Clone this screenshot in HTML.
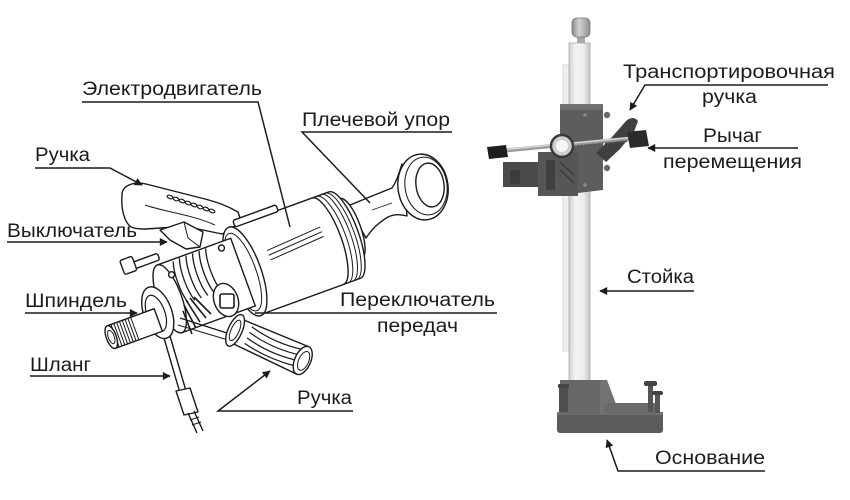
<!DOCTYPE html>
<html><head><meta charset="utf-8"><style>
html,body{margin:0;padding:0;background:#fff;}
svg{display:block;}
text{font-family:"Liberation Sans","Noto Sans CJK SC",sans-serif;font-size:19px;fill:#1c1c1c;}
</style></head><body>
<svg width="850" height="500" viewBox="0 0 850 500" xmlns="http://www.w3.org/2000/svg">
<defs>
<marker id="a" viewBox="0 0 10 10" refX="9" refY="5" markerWidth="9" markerHeight="8" markerUnits="userSpaceOnUse" orient="auto"><path d="M0,0 L10,5 L0,10 z" fill="#1c1c1c"/></marker>
<linearGradient id="col" x1="0" x2="1" y1="0" y2="0"><stop offset="0" stop-color="#cfcfcf"/><stop offset="0.3" stop-color="#f3f3f3"/><stop offset="0.7" stop-color="#ececec"/><stop offset="1" stop-color="#c4c4c4"/></linearGradient>
<linearGradient id="knob" x1="0" x2="1" y1="0" y2="0"><stop offset="0" stop-color="#8a8a8a"/><stop offset="0.4" stop-color="#d2d2d2"/><stop offset="1" stop-color="#8f8f8f"/></linearGradient>
</defs>

<!-- ============ DRILL ============ -->
<g stroke="#1a1a1a" stroke-width="1.4" fill="#fff" stroke-linejoin="round">
<!-- shoulder tube -->
<path d="M348,206 C362,200 377,194 392,188 C397,181 399,173 402,164 L407,216 C400,214 394,214 388,217 C378,223 372,229 366,238 Z"/>
<line x1="372" y1="210" x2="392" y2="203" stroke-width="0.8"/>
<!-- shoulder disk -->
<ellipse cx="423" cy="187" rx="25" ry="33" transform="rotate(-8 423 187)"/>
<ellipse cx="426" cy="186" rx="21" ry="29" transform="rotate(-8 426 186)" stroke-width="1"/>
<ellipse cx="430" cy="185" rx="14" ry="22" transform="rotate(-8 430 185)"/>

<!-- top handle -->
<path d="M122,196 C121,186 133,181 146,184 L205,199 C216,202 226,205 238,212 L242,224 L222,234 L198,229 L178,227 L160,228 C148,229 138,230 131,227 C124,222 121,208 122,196 Z"/>
<path d="M145,205 C165,212 190,214 215,225" fill="none" stroke-width="1"/>
<g fill="#fff" stroke-width="1.2">
<ellipse cx="170" cy="197" rx="3" ry="1.6" transform="rotate(20 170 197)"/>
<ellipse cx="176" cy="199" rx="3" ry="1.6" transform="rotate(20 176 199)"/>
<ellipse cx="182" cy="201" rx="3" ry="1.6" transform="rotate(20 182 201)"/>
<ellipse cx="188" cy="203" rx="3" ry="1.6" transform="rotate(20 188 203)"/>
<ellipse cx="194" cy="205" rx="3" ry="1.6" transform="rotate(20 194 205)"/>
<ellipse cx="200" cy="207" rx="3" ry="1.6" transform="rotate(20 200 207)"/>
<ellipse cx="206" cy="209" rx="3" ry="1.6" transform="rotate(20 206 209)"/>
<ellipse cx="212" cy="211" rx="3" ry="1.6" transform="rotate(20 212 211)"/>
</g>
<!-- trigger -->
<path d="M160,230 L184,222 L203,232 L200,247 L186,249 L170,240 Z"/>
<path d="M184,222 L188,238 L200,247" fill="none" stroke-width="1"/>

<!-- motor + gear head group -->
<g transform="translate(290,255) rotate(-20)">
  <ellipse cx="66" cy="-4" rx="10" ry="32"/>
  <path d="M-48,-46 L58,-46 A14,46 0 0 1 58,46 L-48,46 Z"/>
  <path d="M40,-46 A14 46 0 0 1 40,46" fill="none"/>
  <path d="M45,-46 A14 46 0 0 1 45,46" fill="none" stroke-width="1"/>
  <path d="M50,-46 A14 46 0 0 1 50,46" fill="none" stroke-width="1"/>
  <path d="M54,-46 A14 46 0 0 1 54,46" fill="none" stroke-width="1"/>
  <path d="M-20,-12 L38,-16 M-20,-7 L38,-11 M-20,-2 L38,-6" fill="none" stroke-width="1"/>
  <rect x="-42" y="-52" width="46" height="7" rx="2"/>
  <path d="M-30,46 L40,46" stroke-width="1"/>
  <ellipse cx="-48" cy="0" rx="16" ry="47"/>
  <ellipse cx="-50" cy="0" rx="13" ry="41" stroke-width="1"/>
  <!-- valve -->
  <rect x="-150" y="-47" width="26" height="7" rx="2"/>
  <rect x="-162" y="-53" width="13" height="15" rx="2"/>
  <!-- gear head -->
  <path d="M-50,-36 L-128,-36 L-128,36 L-50,36 Z"/>
  <g fill="none" stroke-width="1.3">
    <path d="M-112,-34 A9 30 0 0 0 -112,10"/>
    <path d="M-105,-35 A9 30 0 0 0 -105,10"/>
    <path d="M-98,-35 A9 30 0 0 0 -98,10"/>
    <path d="M-91,-35 A9 30 0 0 0 -91,10"/>
    <path d="M-84,-35 A9 30 0 0 0 -84,10"/>
    <path d="M-77,-35 A9 30 0 0 0 -77,10"/>
  </g>
  <ellipse cx="-128" cy="0" rx="12" ry="36"/>
  <circle cx="-118" cy="-22" r="3"/>
  <circle cx="-62" cy="-30" r="3"/>
  <!-- front ring -->
  <ellipse cx="-144" cy="9" rx="14" ry="27"/>
  <ellipse cx="-146" cy="9" rx="9" ry="19" stroke-width="1.2"/>
  <!-- spindle -->
  <rect x="-196" y="4" width="50" height="24"/>
  <g stroke-width="1">
    <path d="M-192,4 V28 M-189,4 V28 M-186,4 V28 M-183,4 V28 M-180,4 V28 M-177,4 V28 M-174,4 V28 M-171,4 V28"/>
  </g>
  <ellipse cx="-196" cy="16" rx="5" ry="12"/>
  <ellipse cx="-196" cy="16" rx="3" ry="7" stroke-width="1"/>
</g>

<!-- bevel gear teeth -->
<g stroke-width="1.6" fill="none">
<path d="M186,300 L200,322 M190,298 L206,318 M194,297 L211,314 M184,305 L196,328 M183,311 L192,334"/>
</g>
<path d="M180,318 L230,334" fill="none"/>
<path d="M178,325 L228,340" fill="none" stroke-width="1"/>

<!-- hose -->
<path d="M164,338 L180,393 M170,336 L186,391" fill="none"/>
<path d="M176,391 L190,388 L198,412 L184,415 Z"/>
<path d="M188,413 L197,433 M194,411 L203,431" fill="none"/>
<path d="M190,420 L199,417 M192,425 L201,422" fill="none" stroke-width="1"/>

<!-- side handle -->
<g transform="translate(268,345) rotate(24)">
  <path d="M-32,-13 L38,-15 L38,15 L-32,13 Z"/>
  <g fill="none" stroke-width="1.2">
    <path d="M-22,-10 Q5,-4 34,-10"/>
    <path d="M-22,-4 Q5,2 34,-4"/>
    <path d="M-22,2 Q5,8 34,2"/>
    <path d="M-22,8 Q5,13 34,8"/>
  </g>
  <ellipse cx="-36" cy="0" rx="7" ry="17"/>
  <ellipse cx="-36" cy="0" rx="4" ry="11" stroke-width="1"/>
  <ellipse cx="38" cy="0" rx="8" ry="15"/>
  <ellipse cx="39" cy="0" rx="5" ry="10" stroke-width="1"/>
</g>
<!-- gear switch knob -->
<ellipse cx="226" cy="300" rx="12" ry="17" transform="rotate(-20 226 300)"/>
<rect x="220" y="294" width="14" height="14" rx="2" stroke-width="1.6"/>
</g>

<!-- ============ STAND ============ -->
<rect x="563" y="65" width="7" height="286" fill="#efefef" stroke="#d2d2d2" stroke-width="0.8"/>
<rect x="577" y="35" width="8" height="10" fill="#a8a8a8"/>
<rect x="572" y="18" width="18" height="19" rx="5" fill="url(#knob)" stroke="#777" stroke-width="0.8"/>
<rect x="569" y="43" width="21" height="340" fill="url(#col)" stroke="#a8a8a8" stroke-width="0.8"/>

<!-- carriage -->
<rect x="503" y="162" width="40" height="25" fill="#4b4b4b"/>
<rect x="510" y="170" width="10" height="14" fill="#3c3c3c"/>
<path d="M560,105 L603,105 L603,190 L578,193 L562,188 L560,160 Z" fill="#5d5d5d"/>
<rect x="560" y="104" width="43" height="6" fill="#6f6f6f"/>
<rect x="538" y="152" width="40" height="44" fill="#565656"/>
<rect x="546" y="160" width="9" height="30" fill="#404040"/>
<path d="M560,162 L574,175 M560,170 L574,183" stroke="#3a3a3a" stroke-width="1.5"/>
<circle cx="607" cy="115" r="3.2" fill="#6a6a6a"/>
<circle cx="607" cy="168" r="3.2" fill="#6a6a6a"/>
<circle cx="585" cy="115" r="1.8" fill="#888"/>
<circle cx="585" cy="185" r="1.8" fill="#888"/>
<path d="M596,153 L612,137 L626,121 Q633,115 638,121 L634,132 L620,149 L606,162 Z" fill="#404040"/>
<line x1="500" y1="151" x2="636" y2="138" stroke="#9c9c9c" stroke-width="4"/>
<line x1="500" y1="150" x2="636" y2="137" stroke="#dcdcdc" stroke-width="1.2"/>
<line x1="578" y1="146" x2="628" y2="141" stroke="#555" stroke-width="2" stroke-dasharray="1.5 1.5"/>
<path d="M487,147 L506,145 L508,157 L489,159 Z" fill="#1e1e1e"/>
<path d="M627,132 L646,130 L649,146 L630,148 Z" fill="#2b2b2b"/>
<circle cx="562" cy="146" r="11" fill="#cfcfcf" stroke="#3a3a3a" stroke-width="2.5"/>
<circle cx="562" cy="146" r="6" fill="#f6f6f6"/>

<!-- base -->
<rect x="557" y="412" width="106" height="21" rx="3" fill="#5b5b5b"/>
<rect x="557" y="412" width="106" height="3" fill="#707070"/>
<rect x="560" y="380" width="42" height="34" fill="#676767"/>
<path d="M600,380 L607,380 L616,404 L616,414 L600,414 Z" fill="#727272"/>
<rect x="604" y="403" width="52" height="11" fill="#6b6b6b"/>
<rect x="559" y="386" width="9" height="26" fill="#4e4e4e"/>
<rect x="558" y="384" width="11" height="4" rx="1" fill="#444"/>
<rect x="648" y="385" width="5" height="27" fill="#555"/>
<rect x="644" y="381" width="13" height="5" rx="2" fill="#444"/>
<rect x="655" y="393" width="5" height="20" fill="#555"/>
<rect x="652" y="391" width="11" height="4" rx="2" fill="#444"/>

<!-- ============ LABEL LINES ============ -->
<g stroke="#1c1c1c" stroke-width="1.5" fill="none">
<path d="M82,102 H258 L290,227"/>
<path d="M452,132 H302 L370,203"/>
<path d="M35,168 H110 L142,185" marker-end="url(#a)"/>
<path d="M7,242 H167" marker-end="url(#a)"/>
<path d="M25,313 H137" marker-end="url(#a)"/>
<path d="M497,313 H255"/>
<path d="M30,376 H170" marker-end="url(#a)"/>
<path d="M353,411 H218 L270,371" marker-end="url(#a)"/>
<path d="M828,85 H645 L630,110" marker-end="url(#a)"/>
<path d="M798,148 H648" marker-end="url(#a)"/>
<path d="M694,291 H600" marker-end="url(#a)"/>
<path d="M765,471 H618 L607,440" marker-end="url(#a)"/>
</g>

<!-- ============ LABELS ============ -->
<text x="82" y="95" textLength="180" lengthAdjust="spacingAndGlyphs">Электродвигатель</text>
<text x="302" y="126" textLength="148" lengthAdjust="spacingAndGlyphs">Плечевой упор</text>
<text x="35" y="161" textLength="55" lengthAdjust="spacingAndGlyphs">Ручка</text>
<text x="7" y="237" textLength="130" lengthAdjust="spacingAndGlyphs">Выключатель</text>
<text x="25" y="307" textLength="102" lengthAdjust="spacingAndGlyphs">Шпиндель</text>
<text x="340" y="306" textLength="155" lengthAdjust="spacingAndGlyphs">Переключатель</text>
<text x="377" y="332" textLength="81" lengthAdjust="spacingAndGlyphs">передач</text>
<text x="30" y="371" textLength="61" lengthAdjust="spacingAndGlyphs">Шланг</text>
<text x="297" y="404" textLength="55" lengthAdjust="spacingAndGlyphs">Ручка</text>
<text x="623" y="78" textLength="212" lengthAdjust="spacingAndGlyphs">Транспортировочная</text>
<text x="702" y="103" textLength="55" lengthAdjust="spacingAndGlyphs">ручка</text>
<text x="703" y="142" textLength="59" lengthAdjust="spacingAndGlyphs">Рычаг</text>
<text x="663" y="168" textLength="139" lengthAdjust="spacingAndGlyphs">перемещения</text>
<text x="627" y="283" textLength="67" lengthAdjust="spacingAndGlyphs">Стойка</text>
<text x="655" y="464" textLength="110" lengthAdjust="spacingAndGlyphs">Основание</text>
</svg>
</body></html>
